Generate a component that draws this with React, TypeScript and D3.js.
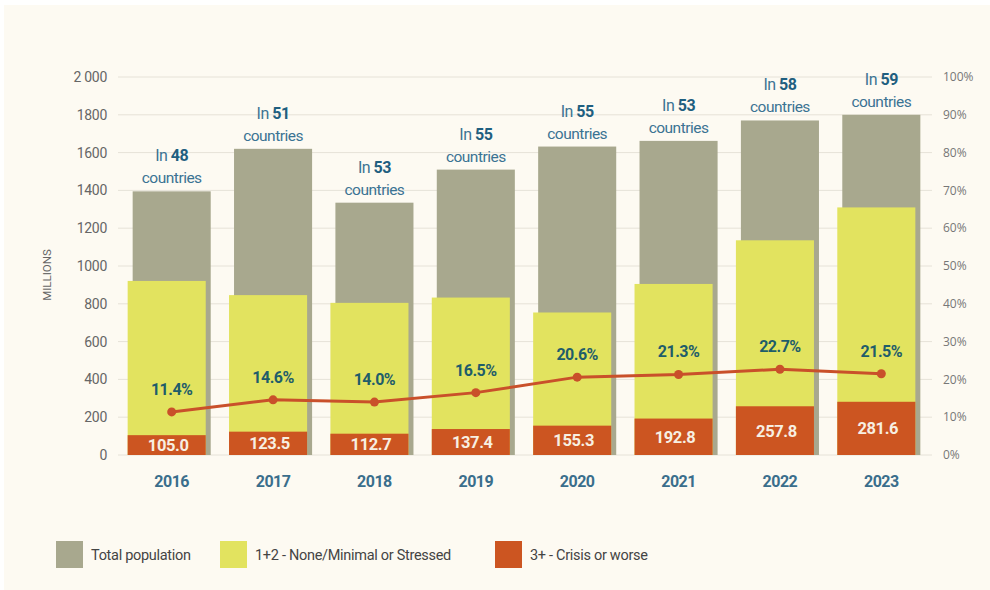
import React from "react";
import * as d3 from "d3";

const years = ["2016", "2017", "2018", "2019", "2020", "2021", "2022", "2023"];
const totalPopulation = [1395, 1620, 1335, 1510, 1632, 1662, 1770, 1800];
const analyzedPopulation = [921, 846, 805, 833, 754, 905, 1136, 1310];
const crisisPopulation = [105.0, 123.5, 112.7, 137.4, 155.3, 192.8, 257.8, 281.6];
const crisisShare = [11.4, 14.6, 14.0, 16.5, 20.6, 21.3, 22.7, 21.5];
const countryCounts = [48, 51, 53, 55, 55, 53, 58, 59];
const leftTicks = [0, 200, 400, 600, 800, 1000, 1200, 1400, 1600, 1800, 2000];
const rightTicks = [0, 10, 20, 30, 40, 50, 60, 70, 80, 90, 100];
const legendItems = ["Total population", "1+2 - None/Minimal or Stressed", "3+ - Crisis or worse"];

const W = 990;
const H = 590;
const COND = "Roboto, 'Liberation Sans', sans-serif";
const GRAY = "#a8a88e";
const YELLOW = "#e2e35f";
const RED = "#cc5521";
const LINE = "#c9502a";

export default function App() {
  const x = d3.scaleBand<string>().domain(years).range([121, 932]).paddingInner(0.23).paddingOuter(0.115);
  const y = d3.scaleLinear().domain([0, 2000]).range([455, 77]);
  const yr = d3.scaleLinear().domain([0, 100]).range([455, 77]);
  const bw = x.bandwidth();
  const shift = -5;
  const cx = (yv: string) => (x(yv) as number) + bw / 2;

  const line = d3
    .line<number>()
    .x((_, i) => cx(years[i]))
    .y((d) => yr(d));

  const legendX = [56, 220, 495];

  return (
    <svg width={W} height={H} style={{ position: "absolute", left: 0, top: 0, display: "block" }}>
      <rect x={0} y={0} width={W} height={H} fill="#ffffff" />
      <rect x={4} y={5} width={W - 4} height={H - 5} fill="#fdfaf2" />

      {/* gridlines */}
      {leftTicks.map((t) => (
        <line key={"g" + t} x1={118} x2={932} y1={y(t)} y2={y(t)} stroke="#e6e2d8" strokeWidth={1} />
      ))}

      {/* left axis labels */}
      {leftTicks.map((t) => (
        <text key={"l" + t} x={107} y={y(t)} dy="0.35em" textAnchor="end" fontFamily={COND} fontSize={14} letterSpacing={-0.3} fill="#666">
          {t === 2000 ? "2 000" : String(t)}
        </text>
      ))}
      {/* right axis labels */}
      {rightTicks.map((t) => (
        <text key={"r" + t} x={943} y={yr(t)} dy="0.35em" textAnchor="start" fontFamily="'Open Sans', sans-serif" fontSize={12} fill="#777">
          {t + "%"}
        </text>
      ))}
      <text
        transform={`translate(47,275) rotate(-90)`}
        textAnchor="middle"
        fontFamily={COND}
        fontSize={11.5}
        fill="#666"
        dy="0.35em"
      >
        MILLIONS
      </text>

      {/* bars */}
      {years.map((yv, i) => (
        <g key={"b" + yv}>
          <rect x={x(yv)} y={y(totalPopulation[i])} width={bw} height={y(0) - y(totalPopulation[i])} fill={GRAY} />
          <rect x={(x(yv) as number) + shift} y={y(analyzedPopulation[i])} width={bw} height={y(0) - y(analyzedPopulation[i])} fill={YELLOW} />
          <rect x={(x(yv) as number) + shift} y={y(crisisPopulation[i])} width={bw} height={y(0) - y(crisisPopulation[i])} fill={RED} />
          <text
            x={cx(yv) + shift / 2 - 1}
            y={(y(crisisPopulation[i]) + y(0)) / 2}
            dy="0.36em"
            textAnchor="middle"
            fontFamily={COND}
            fontWeight="bold"
            fontSize={16.5}
            letterSpacing={-0.4}
            fill="#f7efe2"
          >
            {crisisPopulation[i].toFixed(1)}
          </text>
          <text x={cx(yv)} y={y(totalPopulation[i]) - 30} textAnchor="middle" fontFamily={COND} fontSize={16} letterSpacing={-0.5} fill="#3b7393">
            {"In "}
            <tspan fontWeight="bold" fill="#1f5f80">{countryCounts[i]}</tspan>
          </text>
          <text x={cx(yv)} y={y(totalPopulation[i]) - 8} textAnchor="middle" fontFamily={COND} fontSize={15.5} letterSpacing={-0.5} fill="#3b7393">
            countries
          </text>
          <text x={cx(yv)} y={487} textAnchor="middle" fontFamily={COND} fontWeight="bold" fontSize={16} letterSpacing={-0.5} fill="#3a6e8c">
            {yv}
          </text>
        </g>
      ))}

      {/* line */}
      <path d={line(crisisShare) || ""} fill="none" stroke={LINE} strokeWidth={3} />
      {crisisShare.map((p, i) => (
        <g key={"p" + i}>
          <circle cx={cx(years[i])} cy={yr(p)} r={4.5} fill={LINE} />
          <text x={cx(years[i])} y={yr(p) - 17} textAnchor="middle" fontFamily={COND} fontWeight="bold" fontSize={16} letterSpacing={-0.5} fill="#1f5d6a">
            {p.toFixed(1) + "%"}
          </text>
        </g>
      ))}

      {/* legend */}
      {legendItems.map((name, i) => (
        <g key={"lg" + i}>
          <rect x={legendX[i]} y={541} width={27} height={27} fill={[GRAY, YELLOW, RED][i]} />
          <text x={legendX[i] + 35} y={555} dy="0.35em" fontFamily={COND} fontSize={14.5} letterSpacing={-0.3} fill="#444">
            {name}
          </text>
        </g>
      ))}
    </svg>
  );
}
